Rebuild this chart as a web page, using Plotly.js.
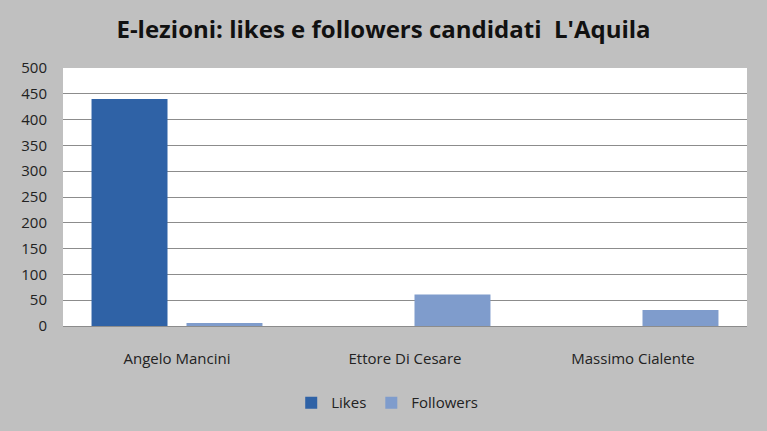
<!DOCTYPE html>
<html><head><meta charset="utf-8">
<script src="https://cdn.plot.ly/plotly-3.0.1.min.js"></script>
<style>html,body{margin:0;padding:0;background:#c0c0c0}</style>
</head><body>
<div id="chart" style="width:767px;height:431px"></div>
<script>
const categories = ["Angelo Mancini", "Ettore Di Cesare", "Massimo Cialente"];
const likes = [440, 0, 0];
const followers = [6, 61, 31];
const yTicks = [0, 50, 100, 150, 200, 250, 300, 350, 400, 450, 500];

const font = "Open Sans, Liberation Sans, sans-serif";
const data = [
  {type: "bar", name: "Likes", x: categories, y: likes,
   marker: {color: "#2f62a6", line: {width: 0}}},
  {type: "bar", name: "Followers", x: categories, y: followers,
   marker: {color: "#7f9ccc", line: {width: 0}}}
];
const layout = {
  width: 767, height: 431,
  paper_bgcolor: "#c0c0c0", plot_bgcolor: "#ffffff",
  margin: {l: 63, r: 20, t: 68, b: 105},
  title: {text: "<b>E-lezioni: likes e followers candidati  L'Aquila</b>",
          font: {family: font, size: 24, color: "#111"}, x: 0.5, xanchor: "center", y: 0.932, yanchor: "middle"},
  barmode: "group", bargap: 0.167, bargroupgap: 0.2,
  xaxis: {tickfont: {family: font, size: 15, color: "#222"}, showgrid: false,
          showline: true, linecolor: "#8c8c8c", linewidth: 1, ticks: "", fixedrange: true,
          ticklabelstandoff: 19},
  yaxis: {range: [0, 500], tickvals: yTicks, tickfont: {family: font, size: 15, color: "#222"},
          gridcolor: "#8c8c8c", gridwidth: 1, zeroline: false, ticks: "", ticklen: 0,
          showline: false, fixedrange: true, ticklabelstandoff: 15},
  legend: {orientation: "h", x: 0.474, xanchor: "center", y: -0.298, yanchor: "middle",
           font: {family: font, size: 15, color: "#222"}, itemwidth: 30},
  showlegend: true
};
Plotly.newPlot("chart", data, layout, {displayModeBar: false, staticPlot: true});
</script>
</body></html>
